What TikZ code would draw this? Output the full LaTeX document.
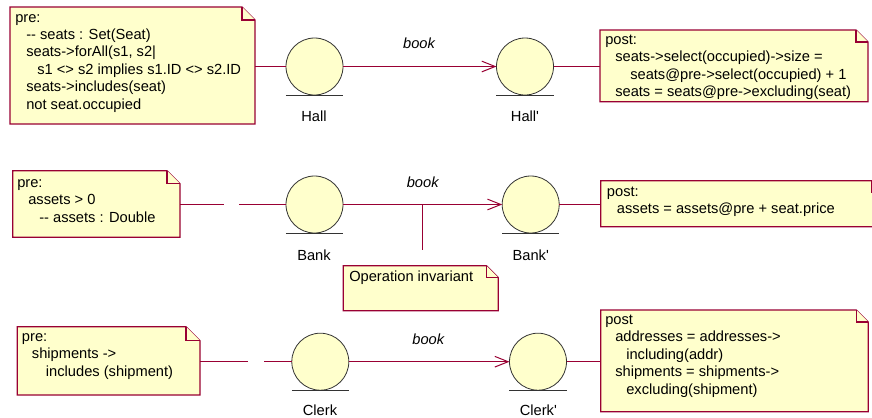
\documentclass[tikz,border=0pt]{standalone}
\usepackage{fontspec}
\setmainfont{Liberation Sans}
\usetikzlibrary{arrows.meta,fit}
\definecolor{notefill}{RGB}{255,255,204}
\definecolor{noteline}{RGB}{153,0,51}
\definecolor{entityline}{RGB}{51,51,51}
\newlength\pxu
\setlength\pxu{0.75pt}
\newcommand{\indpx}[1]{\hspace*{#1\pxu}}
\newcommand{\notefont}{\fontsize{11}{13.1}\selectfont}
\newcommand{\prm}{\textquotesingle}
\newcommand{\drawnote}[2]{%
  \filldraw[notestyle] (#1.south west) -- (#1.north west) -- ([xshift=-#2]#1.north east)
     -- ([yshift=-#2]#1.north east) -- (#1.south east) -- cycle;
  \draw[notestyle] ([xshift=-#2]#1.north east) |- ([yshift=-#2]#1.north east);}
\tikzset{
  notestyle/.style={draw=noteline, fill=notefill, line width=1pt, line join=miter},
  notearea/.style={inner sep=0pt, outer sep=0pt},
  notetext/.style={anchor=base west, inner sep=0pt, font=\notefont},
  entity/.style={circle, draw=entityline, fill=notefill, line width=0.6pt,
                 minimum size=42.75pt, inner sep=0pt, outer sep=0pt},
  entbase/.style={draw=entityline, line width=0.75pt},
  entlabel/.style={anchor=base, inner sep=0pt, font=\notefont},
  oplabel/.style={anchor=base, inner sep=0pt, font=\notefont\itshape},
  conn/.style={draw=noteline, line width=0.75pt},
  flow/.style={conn, -{Straight Barb[length=10pt,width=8pt,line width=0.75pt]}}
}
\newcommand{\entbar}[1]{\draw[entbase] ([xshift=-21.4pt]#1.south) -- ([xshift=21.4pt]#1.south);}
\begin{document}
\begin{tikzpicture}[x=0.75pt,y=-0.75pt]
\useasboundingbox (0,0) rectangle (872,418);
\fill[white] (0,0) rectangle (872,418);
\clip (0,0) rectangle (872,418);

% ---------- Row 1 ----------
\coordinate (n1a) at (10,7); \coordinate (n1b) at (255,124);
\node[notearea, fit=(n1a)(n1b)] (n1) {};
\drawnote{n1}{9.75pt}
\node[notetext] (n1t) at (15,22) {\begin{tabular}[t]{@{}l@{}}
pre:\\
\indpx{11}-{}- seats : Set(Seat)\\
\indpx{11}seats->forAll(s1, s2|\\
\indpx{22}s1 <> s2 implies s1.ID <> s2.ID\\
\indpx{11}seats->includes(seat)\\
\indpx{11}not seat.occupied
\end{tabular}};

\coordinate (n3a) at (600,30); \coordinate (n3b) at (868,101.7);
\node[notearea, fit=(n3a)(n3b)] (n3) {};
\drawnote{n3}{9pt}
\node[notetext] (n3t) at (605,44.5) {\begin{tabular}[t]{@{}l@{}}
post:\\
\indpx{10}seats->select(occupied)->size =\\
\indpx{25}seats@pre->select(occupied) + 1\\
\indpx{10}seats = seats@pre->excluding(seat)
\end{tabular}};

\node[entity] (hall) at (314.5,66.5) {};
\node[entity] (hallp) at (525,66.5) {};
\entbar{hall}
\entbar{hallp}
\node[entlabel] (hallname) at (314,121) {Hall};
\node[entlabel] (hallpname) at (525,121) {Hall\prm};
\draw[conn] (hall.west -| n1.east) -- (hall.west);
\draw[flow] (hall.east) -- (hallp.west);
\draw[conn] (hallp.east) -- (hallp.east -| n3.west);
\node[oplabel] (book1) at (419,48) {book};

% ---------- Row 2 ----------
\coordinate (n4a) at (12.7,170.7); \coordinate (n4b) at (180,237.3);
\node[notearea, fit=(n4a)(n4b)] (n4) {};
\drawnote{n4}{9.75pt}
\node[notetext] (n4t) at (17,187.5) {\begin{tabular}[t]{@{}l@{}}
pre:\\
\indpx{11}assets > 0\\
\indpx{22}-{}- assets : Double
\end{tabular}};

\coordinate (n6a) at (600.7,180.7); \coordinate (n6b) at (884,226.7);
\node[notearea, fit=(n6a)(n6b)] (n6) {};
\drawnote{n6}{9pt}
\node[notetext] (n6t) at (606.7,196) {\begin{tabular}[t]{@{}l@{}}
post:\\
\indpx{10}assets = assets@pre + seat.price
\end{tabular}};

\coordinate (n5a) at (343.3,265.7); \coordinate (n5b) at (498.3,310.7);
\node[notearea, fit=(n5a)(n5b)] (n5) {};
\drawnote{n5}{9pt}
\node[notetext] (n5t) at (349,281.5) {Operation invariant};

\node[entity] (bank) at (314.5,204.5) {};
\node[entity] (bankp) at (530.7,204.5) {};
\entbar{bank}
\entbar{bankp}
\node[entlabel] (bankname) at (314,260.5) {Bank};
\node[entlabel] (bankpname) at (530.7,260.5) {Bank\prm};
\coordinate (g1) at (224,204.5); \coordinate (g2) at (239,204.5);
\draw[conn] (g1 -| n4.east) -- (g1);
\draw[conn] (g2) -- (bank.west);
\draw[flow] (bank.east) -- (bankp.west);
\draw[conn] (bankp.east) -- (bankp.east -| n6.west);
\node[oplabel] (book2) at (422.7,187.5) {book};
\coordinate (opjoin) at (422.3,204.5); \coordinate (opend) at (422.3,250);
\draw[conn] (opjoin) -- (opend);

% ---------- Row 3 ----------
\coordinate (n7a) at (17.3,326.7); \coordinate (n7b) at (200,395);
\node[notearea, fit=(n7a)(n7b)] (n7) {};
\drawnote{n7}{10.5pt}
\node[notetext] (n7t) at (21.7,341.5) {\begin{tabular}[t]{@{}l@{}}
pre:\\
\indpx{10}shipments ->\\
\indpx{24}includes (shipment)
\end{tabular}};

\coordinate (n9a) at (600.7,310); \coordinate (n9b) at (868.3,411.7);
\node[notearea, fit=(n9a)(n9b)] (n9) {};
\drawnote{n9}{9pt}
\node[notetext] (n9t) at (605,324.5) {\begin{tabular}[t]{@{}l@{}}
post\\
\indpx{10}addresses = addresses->\\
\indpx{21}including(addr)\\
\indpx{10}shipments = shipments->\\
\indpx{21}excluding(shipment)
\end{tabular}};

\node[entity] (clerk) at (320.3,361.7) {};
\node[entity] (clerkp) at (538,361.7) {};
\entbar{clerk}
\entbar{clerkp}
\node[entlabel] (clerkname) at (320,415.5) {Clerk};
\node[entlabel] (clerkpname) at (538.3,415.5) {Clerk\prm};
\coordinate (g3) at (248,361.7); \coordinate (g4) at (264,361.7);
\draw[conn] (g3 -| n7.east) -- (g3);
\draw[conn] (g4) -- (clerk.west);
\draw[flow] (clerk.east) -- (clerkp.west);
\draw[conn] (clerkp.east) -- (clerkp.east -| n9.west);
\node[oplabel] (book3) at (428.3,344) {book};
\end{tikzpicture}
\end{document}
